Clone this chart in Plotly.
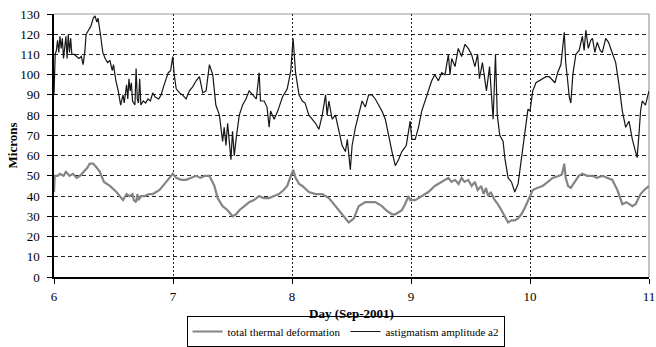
import plotly.graph_objects as go

# Upper trace: astigmatism amplitude a2 (microns) versus day of September 2001
astig_day = [
    6.000, 6.004, 6.010, 6.020, 6.030, 6.040, 6.050, 6.060, 6.070, 6.080,
    6.090, 6.100, 6.110, 6.120, 6.130, 6.140, 6.150, 6.170, 6.190, 6.210,
    6.230, 6.245, 6.260, 6.270, 6.290, 6.310, 6.330, 6.345, 6.360, 6.370,
    6.390, 6.410, 6.430, 6.450, 6.470, 6.490, 6.500, 6.520, 6.540, 6.560,
    6.580, 6.590, 6.610, 6.620, 6.630, 6.640, 6.650, 6.660, 6.680, 6.690,
    6.700, 6.710, 6.720, 6.730, 6.750, 6.770, 6.790, 6.810, 6.830, 6.850,
    6.880, 6.900, 6.920, 6.940, 6.960, 6.980, 6.998, 7.010, 7.027, 7.055,
    7.080, 7.110, 7.138, 7.165, 7.194, 7.222, 7.250, 7.278, 7.306, 7.334,
    7.360, 7.390, 7.400, 7.417, 7.430, 7.445, 7.459, 7.473, 7.487, 7.500,
    7.515, 7.530, 7.557, 7.585, 7.613, 7.640, 7.670, 7.700, 7.724, 7.735,
    7.766, 7.790, 7.808, 7.820, 7.850, 7.880, 7.920, 7.960, 7.990, 8.009,
    8.030, 8.059, 8.087, 8.110, 8.142, 8.170, 8.198, 8.226, 8.254, 8.282,
    8.295, 8.310, 8.337, 8.365, 8.393, 8.421, 8.449, 8.465, 8.490, 8.505,
    8.533, 8.560, 8.589, 8.616, 8.644, 8.672, 8.700, 8.728, 8.756, 8.784,
    8.812, 8.840, 8.868, 8.895, 8.923, 8.960, 8.993, 9.007, 9.035, 9.063,
    9.090, 9.118, 9.146, 9.174, 9.200, 9.230, 9.258, 9.286, 9.314, 9.328,
    9.342, 9.370, 9.397, 9.425, 9.453, 9.481, 9.509, 9.537, 9.560, 9.575,
    9.600, 9.634, 9.660, 9.690, 9.710, 9.725, 9.746, 9.774, 9.788, 9.816,
    9.844, 9.872, 9.900, 9.927, 9.955, 9.983, 10.000, 10.023, 10.050, 10.080,
    10.106, 10.135, 10.162, 10.190, 10.210, 10.232, 10.260, 10.288, 10.300, 10.315,
    10.330, 10.343, 10.360, 10.385, 10.413, 10.440, 10.455, 10.469, 10.490, 10.510,
    10.525, 10.545, 10.565, 10.590, 10.608, 10.636, 10.660, 10.690, 10.720, 10.748,
    10.776, 10.804, 10.832, 10.860, 10.887, 10.900, 10.915, 10.929, 10.943, 10.970,
    11.000,
]
astig_val = [
    90, 100, 110, 112, 117, 111, 119, 113, 118, 108,
    116, 119, 108, 120, 111, 118, 110, 110, 109, 108,
    109, 105, 112, 120, 122, 124, 128, 129, 126, 128,
    120, 111, 108, 106, 107, 102, 105, 97, 92, 85,
    90, 86, 95, 88, 98, 92, 96, 87, 85, 103,
    88, 86, 98, 85, 87, 86, 88, 87, 91, 89,
    88, 90, 94, 97, 101, 102, 109, 100, 93, 91,
    90, 88, 92, 94, 97, 99, 91, 92, 105, 100,
    85, 80, 76, 67, 74, 65, 76, 68, 58, 72,
    60, 68, 80, 85, 88, 92, 90, 88, 101, 87,
    87, 84, 74, 82, 78, 82, 89, 93, 102, 118,
    101, 90, 87, 86, 80, 78, 76, 73, 80, 90,
    80, 87, 78, 80, 72, 65, 62, 68, 53, 65,
    74, 80, 87, 84, 90, 90, 88, 85, 82, 78,
    69, 62, 55, 58, 62, 65, 77, 68, 68, 74,
    82, 87, 92, 97, 100, 97, 101, 100, 110, 100,
    108, 104, 113, 109, 115, 113, 110, 104, 110, 98,
    106, 92, 104, 78, 110, 80, 70, 67, 59, 49,
    47, 42, 46, 59, 72, 83, 82, 92, 96, 97,
    98, 99, 99, 97, 96, 101, 105, 121, 106, 98,
    89, 86, 100, 110, 112, 119, 112, 122, 113, 117,
    118, 111, 116, 112, 111, 118, 116, 111, 106, 95,
    82, 74, 77, 68, 62, 59, 70, 82, 87, 85,
    92,
]

# Lower trace: total thermal deformation (microns)
total_day = [
    6.000, 6.006, 6.030, 6.050, 6.080, 6.100, 6.130, 6.160, 6.190, 6.218,
    6.250, 6.280, 6.300, 6.330, 6.360, 6.385, 6.420, 6.469, 6.525, 6.555,
    6.580, 6.610, 6.636, 6.660, 6.670, 6.690, 6.700, 6.710, 6.730, 6.760,
    6.800, 6.830, 6.887, 6.943, 6.998, 7.027, 7.070, 7.110, 7.150, 7.194,
    7.230, 7.270, 7.306, 7.348, 7.375, 7.417, 7.459, 7.500, 7.530, 7.557,
    7.600, 7.640, 7.680, 7.724, 7.760, 7.808, 7.850, 7.890, 7.930, 7.960,
    7.990, 8.010, 8.030, 8.060, 8.087, 8.142, 8.198, 8.254, 8.310, 8.365,
    8.421, 8.450, 8.477, 8.500, 8.520, 8.560, 8.590, 8.616, 8.660, 8.700,
    8.730, 8.756, 8.790, 8.812, 8.840, 8.868, 8.900, 8.923, 8.950, 8.979,
    8.993, 9.035, 9.063, 9.090, 9.146, 9.200, 9.258, 9.314, 9.340, 9.370,
    9.400, 9.425, 9.450, 9.481, 9.510, 9.537, 9.560, 9.590, 9.610, 9.630,
    9.648, 9.670, 9.704, 9.730, 9.760, 9.788, 9.816, 9.845, 9.872, 9.900,
    9.927, 9.955, 9.983, 10.023, 10.060, 10.106, 10.150, 10.190, 10.246, 10.270,
    10.288, 10.300, 10.320, 10.343, 10.365, 10.385, 10.410, 10.440, 10.480, 10.525,
    10.560, 10.608, 10.650, 10.692, 10.734, 10.776, 10.810, 10.832, 10.860, 10.887,
    10.929, 10.960, 11.000,
]
total_val = [
    42, 50, 50, 51, 50, 52, 50, 51, 49, 50,
    52, 54, 56, 56, 54, 52, 47, 45, 42, 40,
    38, 41, 40, 41, 38, 37, 41, 38, 40, 40,
    41, 41, 43, 47, 51, 49, 48, 48, 49, 50,
    49, 50, 50, 45, 39, 35, 33, 30, 31, 33,
    35, 37, 38, 40, 39, 39, 40, 41, 43, 45,
    50, 53, 49, 46, 45, 42, 41, 41, 39, 35,
    31, 29, 27, 28, 29, 35, 36, 37, 37, 37,
    36, 35, 33, 32, 31, 31, 32, 33, 36, 40,
    38, 38, 39, 40, 42, 45, 47, 49, 47, 48,
    46, 49, 47, 48, 45, 47, 43, 45, 41, 44,
    40, 42, 38, 36, 33, 30, 27, 28, 28, 29,
    31, 34, 38, 43, 44, 45, 47, 49, 50, 51,
    56, 49, 45, 44, 46, 48, 50, 51, 50, 50,
    49, 50, 49, 48, 43, 36, 37, 36, 35, 36,
    41, 43, 45,
]

day_ticks = [6, 7, 8, 9, 10, 11]
micron_ticks = list(range(0, 140, 10))

serif = "'Liberation Serif', 'Times New Roman', Times, serif"

fig = go.Figure()
fig.add_trace(go.Scatter(
    x=total_day, y=total_val, mode="lines",
    name="total thermal deformation",
    line=dict(color="#858585", width=2.2),
))
fig.add_trace(go.Scatter(
    x=astig_day, y=astig_val, mode="lines",
    name="astigmatism amplitude a2",
    line=dict(color="#161616", width=1.2),
))

# grey frame on the top and right edges of the plot area
fig.add_shape(type="line", xref="paper", yref="paper", x0=0, x1=1, y0=1, y1=1,
              line=dict(color="#9a9a9a", width=1.2), layer="between")
fig.add_shape(type="line", xref="paper", yref="paper", x0=1, x1=1, y0=0, y1=1,
              line=dict(color="#9a9a9a", width=1.2), layer="between")

# x-axis title placed as an annotation below the tick labels
fig.add_annotation(
    text="<b>Day (Sep-2001)</b>", xref="paper", yref="paper",
    x=0.5, y=-0.14, xanchor="center", yanchor="middle", showarrow=False,
    font=dict(family=serif, size=13, color="black"),
)

fig.update_layout(
    width=656, height=347,
    margin=dict(l=54, r=7, t=14, b=70, autoexpand=False),
    paper_bgcolor="white", plot_bgcolor="white",
    font=dict(family=serif, size=13, color="black"),
    showlegend=True,
    legend=dict(
        orientation="h", x=0.49, xanchor="center",
        yref="container", y=0.0, yanchor="bottom",
        bordercolor="black", borderwidth=1, bgcolor="white",
        font=dict(family=serif, size=11, color="black"),
        itemwidth=30, tracegroupgap=0,
    ),
    xaxis=dict(
        range=[6, 11], tickvals=day_ticks, ticktext=[str(t) for t in day_ticks],
        showgrid=True, gridcolor="#222222", griddash="2px,2px", gridwidth=1,
        showline=True, linecolor="black", linewidth=1.5,
        ticks="outside", ticklen=5, tickcolor="black",
        ticklabelstandoff=2, zeroline=False,
        automargin=False,
    ),
    yaxis=dict(
        range=[0, 130], tickvals=micron_ticks,
        showgrid=True, gridcolor="#222222", griddash="4px,3px", gridwidth=1,
        showline=True, linecolor="black", linewidth=1.5,
        ticks="outside", ticklen=5, tickcolor="black",
        ticklabelstandoff=5, zeroline=False, automargin=False,
        title=dict(text="<b>Microns</b>", standoff=0,
                   font=dict(family=serif, size=13)),
    ),
)

fig.write_html("out.html")
